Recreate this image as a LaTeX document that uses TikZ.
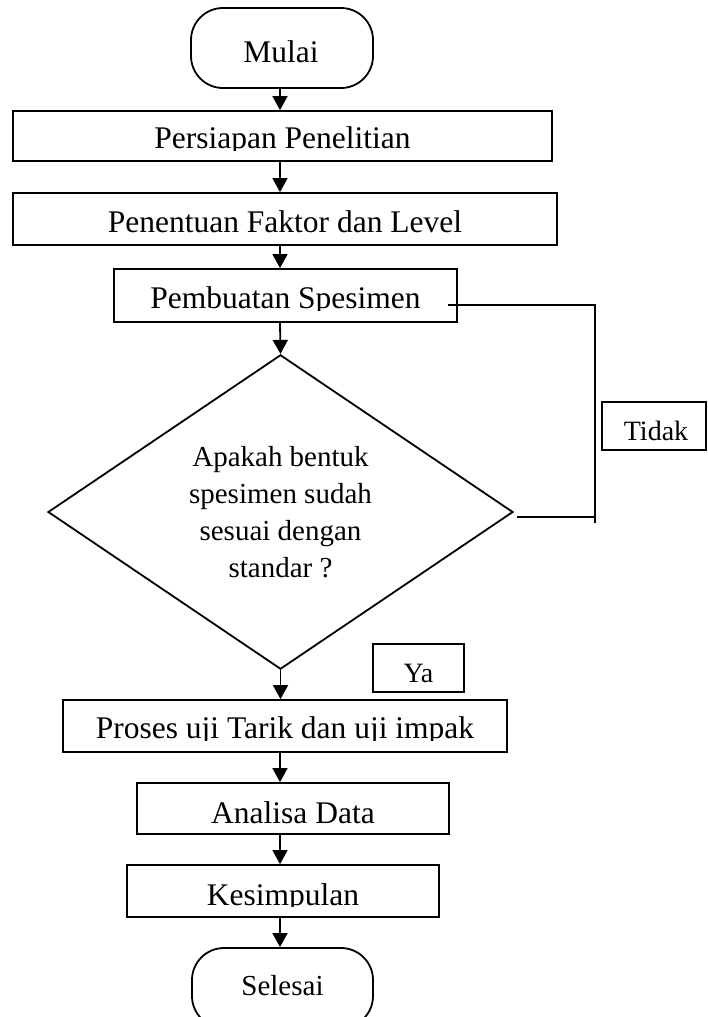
\documentclass[tikz,border=0pt]{standalone}
\usepackage{fontspec}
\setmainfont{Liberation Serif}
\usetikzlibrary{arrows.meta,shapes.geometric}
\begin{document}
\begin{tikzpicture}[x=1pt,y=-1pt,
  box/.style={draw, line width=1.8pt, inner sep=0pt},
  term/.style={box, rounded corners=32pt},
  lbl/.style={inner sep=0pt, anchor=base, font=\fontsize{31.5}{36}\selectfont},
  slbl/.style={inner sep=0pt, anchor=base, font=\fontsize{29}{37}\selectfont},
  tlbl/.style={inner sep=0pt, anchor=base, font=\fontsize{28}{34}\selectfont},
  arr/.style={line width=1.8pt, -{Triangle[width=15pt,length=14pt]}},
  conn/.style={line width=1.8pt}]
\useasboundingbox (0,0) rectangle (707,1017);
\coordinate (col) at (280,0);
% boxes
\node[term, minimum width=182pt, minimum height=80pt] (mul) at (282,48) {};
\node[box, minimum width=539pt, minimum height=50pt] (pers) at (282.5,136) {};
\node[box, minimum width=544pt, minimum height=52pt] (pen) at (285,219) {};
\node[box, minimum width=343pt, minimum height=53pt] (pem) at (285.5,295.5) {};
\node[draw, line width=1.8pt, diamond, inner sep=0pt, minimum width=465pt, minimum height=312pt,
      align=center, font=\fontsize{29}{37}\selectfont] (dia) at (280.5,512)
      {Apakah bentuk\\spesimen sudah\\sesuai dengan\\standar ?};
\node[box, minimum width=444pt, minimum height=52pt] (pro) at (285,726) {};
\node[box, minimum width=312pt, minimum height=51pt] (ana) at (293,808.5) {};
\node[box, minimum width=312pt, minimum height=52pt] (kes) at (283,891) {};
\node[term, minimum width=181pt, minimum height=80pt] (sel) at (282.5,988) {};
\node[box, minimum width=104pt, minimum height=48pt] (tid) at (654,426) {};
\node[box, minimum width=91pt, minimum height=48pt] (ya) at (418.5,668) {};
% labels
\node[lbl] (tmul) at (281,62) {Mulai};
\begin{scope}
  \clip (0,100) rectangle (707,150);
  \node[lbl] (tpers) at (282.5,148) {Persiapan Penelitian};
\end{scope}
\node[lbl] (tpen) at (285,232) {Penentuan Faktor dan Level};
\begin{scope}
  \clip (0,260) rectangle (707,310);
  \node[lbl] (tpem) at (285.5,308) {Pembuatan Spesimen};
\end{scope}
\begin{scope}
  \clip (0,690) rectangle (707,740.5);
  \node[lbl] (tpro) at (285,738) {Proses uji Tarik dan uji impak};
\end{scope}
\node[lbl] (tana) at (293,823) {Analisa Data};
\begin{scope}
  \clip (0,860) rectangle (707,906.5);
  \node[lbl] (tkes) at (283,905) {Kesimpulan};
\end{scope}
\node[slbl] (tsel) at (282.5,995) {Selesai};
\node[tlbl] (ttid) at (656,440) {Tidak};
\node[tlbl] (tya) at (418.5,682) {Ya};
% arrows
\draw[arr] (mul.south -| col) -- (pers.north -| col);
\draw[arr] (pers.south -| col) -- (pen.north -| col);
\draw[arr] (pen.south -| col) -- (pem.north -| col);
\draw[arr] (pem.south -| col) -- (dia.north);
\draw[arr] (dia.south) -- (pro.north -| dia.south);
\draw[arr] (pro.south -| col) -- (ana.north -| col);
\draw[arr] (ana.south -| col) -- (kes.north -| col);
\draw[arr] (kes.south -| col) -- (sel.north -| col);
% Tidak loop
\coordinate (t0) at (448,305);
\coordinate (t1) at (595,523);
\coordinate (t2) at (517,517);
\draw[conn] (t0) -| (t1);
\draw[conn] (t2) -- (t2 -| t1);
\end{tikzpicture}
\end{document}
